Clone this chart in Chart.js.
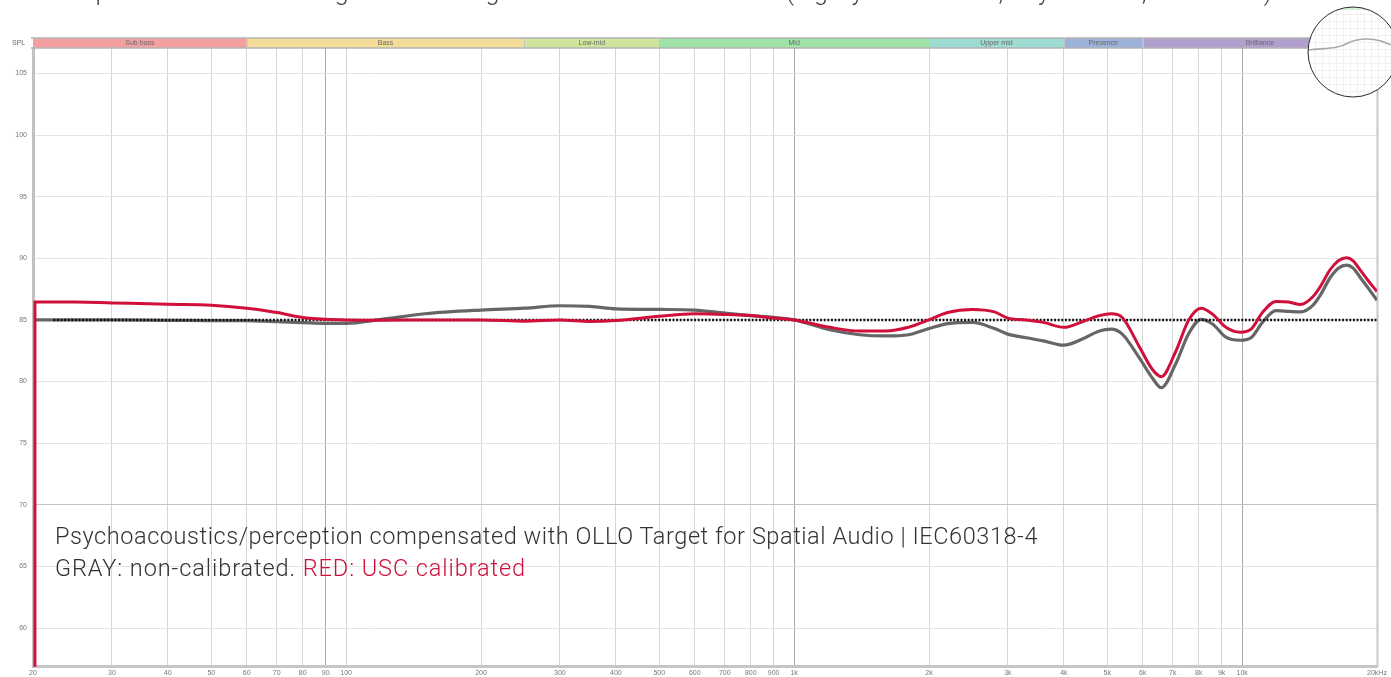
<!DOCTYPE html>
<html><head><meta charset="utf-8">
<script src="https://cdn.jsdelivr.net/npm/chart.js@4.4.0/dist/chart.umd.min.js"></script>
<style>
html,body{margin:0;padding:0;background:#fff;overflow:hidden}
#wrap{position:relative;width:1391px;height:677px;overflow:hidden}
canvas{position:absolute;left:0;top:0}
.t{position:absolute;font-family:Roboto,"Liberation Sans",Arial,sans-serif;font-weight:300;white-space:nowrap;color:#333;line-height:1.15}
</style></head><body>
<div id="wrap">
<canvas id="c" width="1391" height="677"></canvas>
<div class="t" id="ttl" style="left:26px;top:-22px;font-size:25px;color:#444">Studio preset as used for mixing and mastering tests in our reference studio (slightly warmer lows, very accurate, uncoloured)</div>
<div class="t" id="l1" style="left:55px;top:523px;font-size:23.5px">Psychoacoustics/perception compensated with OLLO Target for Spatial Audio | IEC60318-4</div>
<div class="t" id="l2" style="left:55px;top:555px;font-size:23.5px">GRAY: non-calibrated. <span style="color:#d0103a">RED: USC calibrated</span></div>
</div>
<script>
const freqs = [20.2,25,30,40,50,60,70,80,90,100,120,150,200,250,300,350,400,500,600,700,800,900,1000,1200,1400,1600,1800,2000,2200,2500,2800,3000,3300,3600,4000,4400,4800,5100,5400,5900,6300,6600,7100,7600,8100,8600,9200,9900,10500,11100,11900,12700,13500,14400,15000,15700,16400,17100,17700,18300,19100,20000];
const redValues = [86.45,86.45,86.38,86.27,86.2,85.95,85.6,85.2,85.05,85.0,84.98,85.0,85.0,84.9,85.0,84.88,84.95,85.3,85.5,85.45,85.35,85.15,85.0,84.4,84.1,84.1,84.4,85.0,85.6,85.85,85.65,85.15,85.0,84.8,84.4,84.85,85.35,85.5,85.2,82.8,81.0,80.4,82.4,85.0,85.95,85.45,84.4,84.0,84.3,85.6,86.5,86.45,86.25,86.9,87.8,89.05,89.8,90.05,89.8,89.1,88.2,87.3];
const grayValues = [85.0,85.0,85.0,84.97,84.95,84.95,84.85,84.78,84.72,84.72,85.05,85.5,85.8,85.95,86.15,86.1,85.9,85.85,85.8,85.55,85.35,85.2,85.0,84.2,83.8,83.7,83.8,84.3,84.7,84.8,84.3,83.85,83.55,83.3,82.95,83.45,84.1,84.25,83.85,81.9,80.3,79.5,81.4,83.9,85.05,84.65,83.6,83.35,83.6,84.8,85.75,85.7,85.65,86.2,87.1,88.4,89.2,89.45,89.2,88.5,87.6,86.6];
const redStart = {freq: 20.2, value: 40};
const targetFreqs = [22.2, 20000];
const targetValues = [85, 85];
const xTicks = [20,30,40,50,60,70,80,90,100,200,300,400,500,600,700,800,900,1000,2000,3000,4000,5000,6000,7000,8000,9000,10000,20000];
const xTickLabels = ['20','30','40','50','60','70','80','90','100','200','300','400','500','600','700','800','900','1k','2k','3k','4k','5k','6k','7k','8k','9k','10k','20kHz'];
const bandNames = ['Sub bass','Bass','Low-mid','Mid','Upper mid','Presence','Brilliance'];
const bandEdges = [20,60,250,500,2000,4000,6000,20000];
const bandColors = ['#f5a0a0','#f4dd98','#cfe59c','#9fe2a8','#9ddbd3','#9db2da','#b09fcd'];

// fit text widths
(function(){
  function fit(id,w){
    const el=document.getElementById(id);
    const n=el.textContent.length, cw=el.getBoundingClientRect().width;
    el.style.letterSpacing=((w-cw)/n)+'px';
  }
  fit('l1',983); fit('l2',471); fit('ttl',1245);
})();

const redData = [{x: redStart.freq, y: redStart.value}].concat(freqs.map((f,i)=>({x:f,y:redValues[i]})));
const grayData = freqs.map((f,i)=>({x:f,y:grayValues[i]}));
const targetData = targetFreqs.map((f,i)=>({x:f,y:targetValues[i]}));

const decor = {
  id:'decor',
  beforeDatasetsDraw(chart){
    const ctx=chart.ctx, a=chart.chartArea;
    ctx.save();
    ctx.strokeStyle='#c8c8c8'; ctx.lineWidth=2;
    ctx.beginPath(); ctx.moveTo(a.right+0.5,a.top); ctx.lineTo(a.right+0.5,a.bottom); ctx.stroke();
    ctx.restore();
  },
  afterDraw(chart){
    const ctx=chart.ctx, xs=chart.scales.x, a=chart.chartArea;
    ctx.save();
    const top=a.top-10, bot=a.top;
    for(let i=0;i<bandNames.length;i++){
      const x0=xs.getPixelForValue(bandEdges[i]), x1=xs.getPixelForValue(bandEdges[i+1]);
      ctx.fillStyle=bandColors[i];
      ctx.fillRect(x0,top,x1-x0,bot-top);
      ctx.fillStyle='#6a6a6a';
      ctx.font='7px "Liberation Sans", Arial, sans-serif';
      ctx.textAlign='center'; ctx.textBaseline='middle';
      ctx.fillText(bandNames[i],(x0+x1)/2,(top+bot)/2+0.5);
    }
    ctx.strokeStyle='#b4b4b4'; ctx.lineWidth=1.5;
    ctx.beginPath(); ctx.moveTo(a.left-2,top); ctx.lineTo(a.right+1,top);
    ctx.moveTo(a.left-2,bot); ctx.lineTo(a.right+1,bot); ctx.stroke();
    ctx.strokeStyle='#c4c4c4'; ctx.lineWidth=1;
    for(let i=1;i<bandNames.length;i++){
      const x=Math.round(xs.getPixelForValue(bandEdges[i]))+0.5;
      ctx.beginPath(); ctx.moveTo(x,top); ctx.lineTo(x,bot); ctx.stroke();
    }
    ctx.fillStyle='#666'; ctx.font='7px "Liberation Sans", Arial, sans-serif';
    ctx.textAlign='left'; ctx.textBaseline='middle';
    ctx.fillText('SPL',12,(top+bot)/2);
    // magnifier
    const cx=a.right-24, cy=a.top+4, r=45;
    ctx.save();
    ctx.beginPath(); ctx.arc(cx,cy,r,0,Math.PI*2); ctx.closePath();
    ctx.fillStyle='#fff'; ctx.fill();
    ctx.clip();
    ctx.strokeStyle='#f0f0f0'; ctx.lineWidth=1;
    for(let gx=cx-r; gx<cx+r; gx+=7){ctx.beginPath();ctx.moveTo(gx+0.5,cy-r);ctx.lineTo(gx+0.5,cy+r);ctx.stroke();}
    for(let gy=cy-r; gy<cy+r; gy+=7){ctx.beginPath();ctx.moveTo(cx-r,gy+0.5);ctx.lineTo(cx+r,gy+0.5);ctx.stroke();}
    ctx.fillStyle='#d8f2dc'; ctx.fillRect(cx-20,cy-r,40,3);
    ctx.strokeStyle='#a8a8a8'; ctx.lineWidth=1.6;
    ctx.beginPath(); ctx.moveTo(cx-r,cy-2);
    ctx.bezierCurveTo(cx-25,cy-4,cx-15,cy-3,cx-5,cy-9);
    ctx.bezierCurveTo(cx+5,cy-14,cx+18,cy-14,cx+28,cy-11);
    ctx.bezierCurveTo(cx+33,cy-9,cx+38,cy-7,cx+r,cy-5);
    ctx.stroke();
    ctx.restore();
    ctx.strokeStyle='#2a2a2a'; ctx.lineWidth=1;
    ctx.beginPath(); ctx.arc(cx,cy,r,0,Math.PI*2); ctx.stroke();
    ctx.restore();
  }
};

const darkX = [90,1000,10000];
new Chart(document.getElementById('c'),{
  type:'line',
  data:{datasets:[
    {label:'USC calibrated',data:redData,borderColor:'#d0103a',borderWidth:3,pointRadius:0,cubicInterpolationMode:'monotone',fill:false},
    {label:'Target',data:targetData,borderColor:'#111',borderWidth:2.5,borderDash:[2,1.6],pointRadius:0,fill:false},
    {label:'non-calibrated',data:grayData,borderColor:'#666666',borderWidth:3.2,pointRadius:0,cubicInterpolationMode:'monotone',fill:false}
  ]},
  options:{
    responsive:false, animation:false, devicePixelRatio:1,
    layout:{padding:{top:48,right:14,left:0,bottom:0}},
    plugins:{legend:{display:false},tooltip:{enabled:false}},
    scales:{
      x:{type:'logarithmic',min:20,max:20000,
        afterBuildTicks(s){s.ticks=xTicks.map(v=>({value:v}));},
        afterFit(s){s.height=10;},
        ticks:{autoSkip:false,maxRotation:0,minRotation:0,padding:2,color:'#777',font:{size:7,family:'"Liberation Sans", Arial, sans-serif'},
          callback(v){const i=xTicks.indexOf(v);return i>=0?xTickLabels[i]:'';}},
        grid:{drawTicks:false,lineWidth:1,color(c){const v=c.tick&&c.tick.value;return darkX.includes(v)?'#a9a9a9':'#d6d6d6';}},
        border:{display:true,color:'#c6c6c6',width:3}
      },
      y:{type:'linear',min:56.86,max:107.06,
        afterFit(s){s.width=33;},
        ticks:{stepSize:5,includeBounds:false,padding:6,color:'#777',font:{size:7,family:'"Liberation Sans", Arial, sans-serif'}},
        grid:{drawTicks:false,lineWidth:1,color(c){const v=c.tick&&c.tick.value;return v===70?'#c4c4c4':'#e4e4e4';}},
        border:{display:true,color:'#c2c2c2',width:3}
      }
    }
  },
  plugins:[decor]
});
</script>
</body></html>
